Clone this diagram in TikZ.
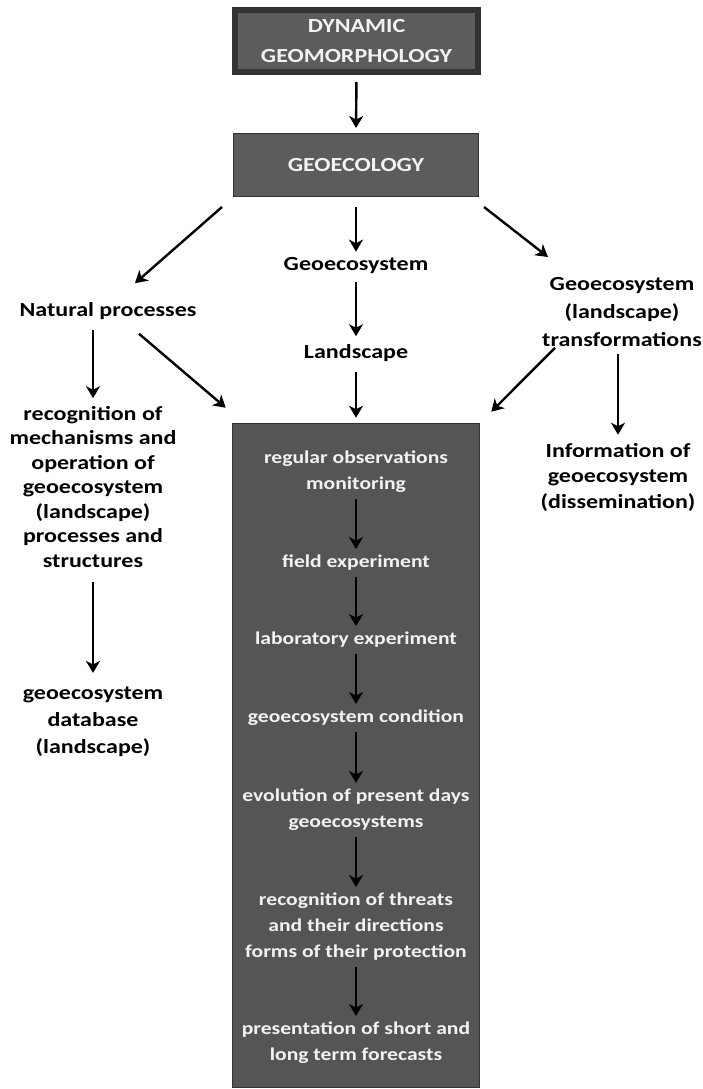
\documentclass[tikz,border=0pt]{standalone}
\usepackage{fontspec}
\setmainfont{Carlito}[FakeStretch=1.2]
\usetikzlibrary{arrows.meta,calc}

\definecolor{boxgray}{HTML}{5C5C5C}
\definecolor{panelgray}{HTML}{555555}
\definecolor{edgegray}{HTML}{333333}
\definecolor{paletext}{HTML}{F2F2F2}

\tikzset{
  arr/.style={-{Stealth[length=12pt,width=14pt,inset=3.5pt]},line width=2.4pt},
  txt/.style={font=\bfseries\fontsize{20}{24.5}\selectfont,align=center,inner sep=0pt},
  steptxt/.style={font=\bfseries\fontsize{18}{26}\selectfont,align=center,inner sep=0pt,text=paletext},
  headbox/.style={fill=boxgray,draw=edgegray,text=paletext,align=center,
    font=\bfseries\fontsize{20}{30}\selectfont,inner sep=0pt},
}

\begin{document}
\begin{tikzpicture}[x=1pt,y=-1pt]
  \useasboundingbox (0,0) rectangle (703,1089);

  % top of the chart
  \node[headbox,line width=6pt,minimum width=243pt,minimum height=62pt] (dyn) at (356.5,41) {DYNAMIC\\GEOMORPHOLOGY};
  \node[headbox,line width=1pt,minimum width=245pt,minimum height=63pt] (geoeco) at (356,165) {GEOECOLOGY};

  \node[txt] (geosys) at (356,266) {Geoecosystem};
  \node[txt] (natproc) at (108,311) {Natural processes};
  \node[txt] (land) at (356,353) {Landscape};
  \node[txt,font=\bfseries\fontsize{20}{28}\selectfont] (trans) at (622,312) {Geoecosystem\\(landscape)\\transformations};

  \node[txt] (recog) at (93,487) {recognition of\\mechanisms and\\operation of\\geoecosystem\\(landscape)\\processes and\\structures};
  \node[txt,font=\bfseries\fontsize{20}{27}\selectfont] (dbase) at (93,722) {geoecosystem\\database\\(landscape)};
  \node[txt,font=\bfseries\fontsize{20}{25.5}\selectfont] (info) at (618,477) {Information of\\geoecosystem\\(dissemination)};

  % dark panel with the steps
  \node[fill=panelgray,draw=edgegray,line width=1.5pt,minimum width=247pt,minimum height=664pt,inner sep=0pt] (panel) at (356,755.5) {};

  \node[steptxt] (s1) at (356,472) {regular observations\\monitoring};
  \node[steptxt] (s2) at (356,563) {field experiment};
  \node[steptxt] (s3) at (356,640) {laboratory experiment};
  \node[steptxt] (s4) at (356,718) {geoecosystem condition};
  \node[steptxt] (s5) at (356,810) {evolution of present days\\geoecosystems};
  \node[steptxt] (s6) at (356,927) {recognition of threats\\and their directions\\forms of their protection};
  \node[steptxt] (s7) at (356,1043) {presentation of short and\\long term forecasts};

  % arrows
  \draw[arr,shorten <=7pt,shorten >=5pt] (dyn.south) -- (geoeco.north);
  \draw[arr] ($(geoeco.south west)+(-11,10)$) -- ($(natproc.north)+(27,-19)$);
  \draw[arr,shorten <=10pt,shorten >=6pt] (geoeco.south) -- (geosys.north);
  \draw[arr] ($(geoeco.south east)+(5,10)$) -- ($(trans.west)+(6,-55)$);

  \draw[arr,shorten <=10pt,shorten >=8pt] (recog.north |- natproc.south) -- (recog.north);
  \draw[arr] ($(natproc.south)+(31,14)$) -- ($(panel.north west)+(-6,-15)$);
  \draw[arr,shorten <=8pt,shorten >=8pt] (geosys.south) -- (land.north);
  \draw[arr,shorten <=10pt,shorten >=5pt] (land.south) -- (panel.north);
  \draw[arr] ($(trans.south west)+(13,1)$) -- ($(panel.north east)+(11,-11)$);
  \draw[arr,shorten <=7pt,shorten >=8pt] (info.north |- trans.south) -- (info.north);
  \draw[arr,shorten <=14pt,shorten >=14pt] (recog.south) -- (dbase.north);

  \foreach \a/\b in {s1/s2,s2/s3,s3/s4,s4/s5,s5/s6,s6/s7}
    \draw[arr,shorten <=6pt,shorten >=6pt] (\a.south) -- (\b.north);
\end{tikzpicture}
\end{document}
